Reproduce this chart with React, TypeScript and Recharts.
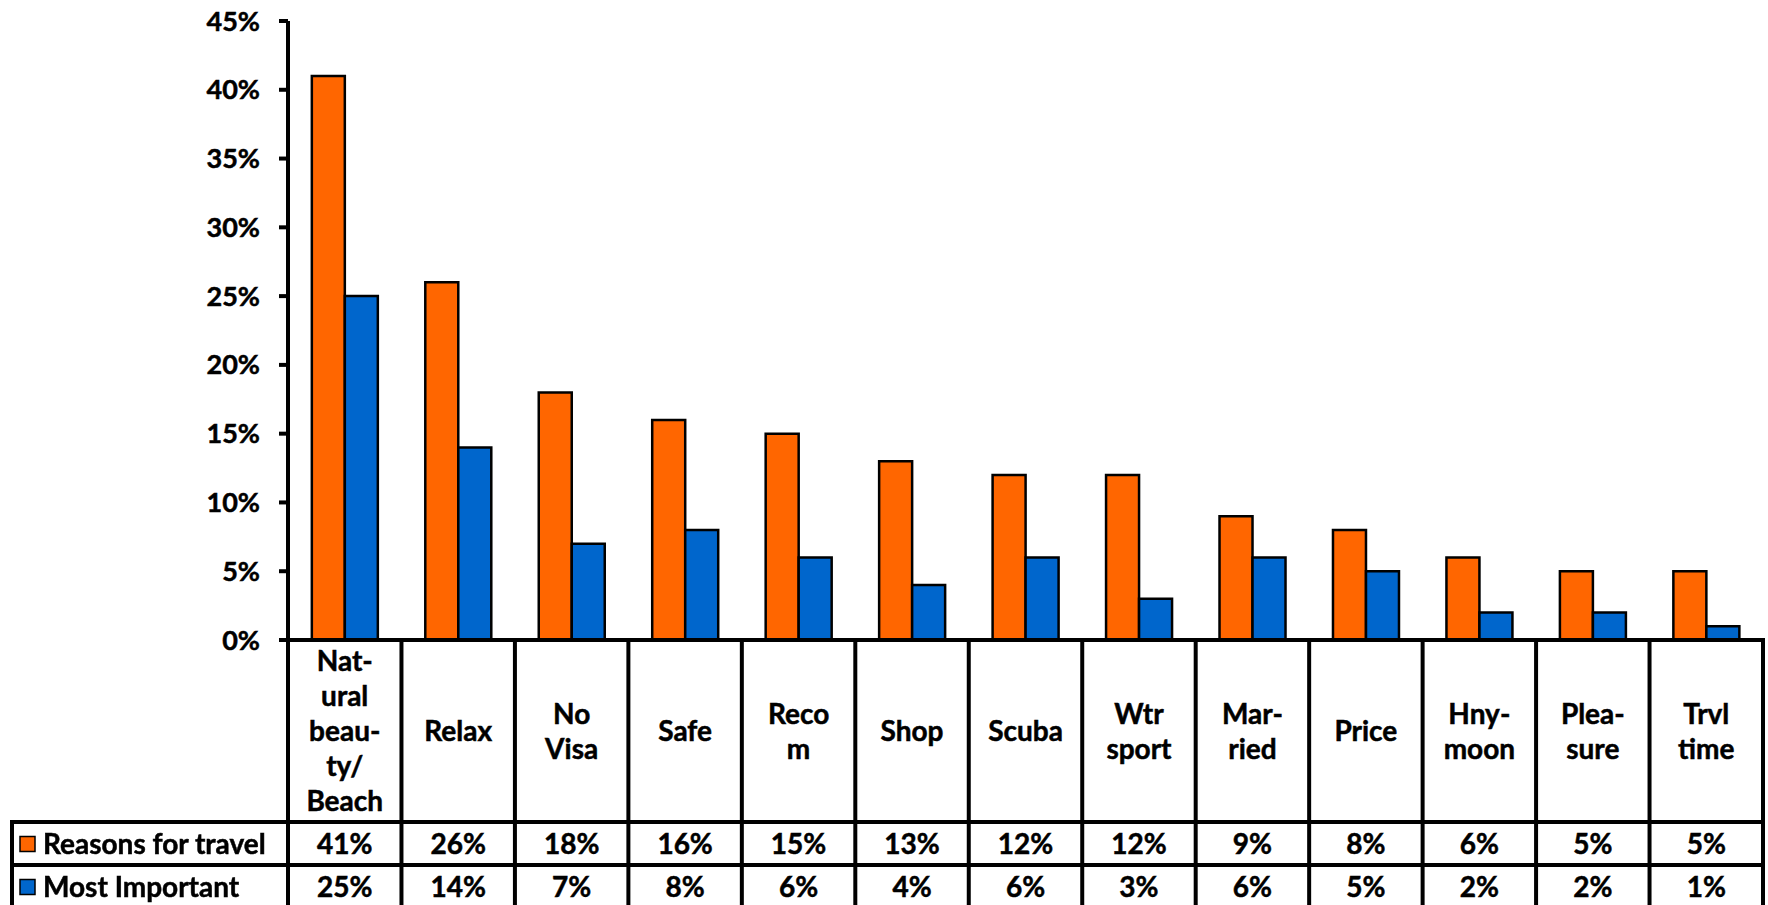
import React from 'react';
import { BarChart, Bar, XAxis, YAxis, Legend } from 'recharts';

// Survey: why visitors travel here, and which reason mattered most
const categories = [
  'Nat-\nural\nbeau-\nty/\nBeach',
  'Relax',
  'No\nVisa',
  'Safe',
  'Reco\nm',
  'Shop',
  'Scuba',
  'Wtr\nsport',
  'Mar-\nried',
  'Price',
  'Hny-\nmoon',
  'Plea-\nsure',
  'Trvl\ntime',
];
const reasonsForTravel = [41, 26, 18, 16, 15, 13, 12, 12, 9, 8, 6, 5, 5];
const mostImportant = [25, 14, 7, 8, 6, 4, 6, 3, 6, 5, 2, 2, 1];
const yTicks = [0, 5, 10, 15, 20, 25, 30, 35, 40, 45];
const seriesOrder = ['reasons', 'important'];

const data = categories.map((name, i) => ({
  name,
  reasons: reasonsForTravel[i],
  important: mostImportant[i],
}));

const W = 1768;
const H = 905;
const AXIS_W = 288;
const RIGHT = 5;
const PLOT_W = W - AXIS_W - RIGHT;
const COL_W = PLOT_W / categories.length;
const HEADER_H = 182;
const ROW_H = 43;
const LINE = 4;
const FONT = 'Lato, "DejaVu Sans", sans-serif';
const ORANGE = '#FF6600';
const BLUE = '#0066CC';

const pct = (v: number) => `${v}%`;

const textProps = {
  fontFamily: FONT,
  fontWeight: 700,
  fontSize: 28,
  fill: '#000',
  stroke: '#000',
  strokeWidth: 0.5,
};

// Each x tick draws its own column of the data table under the plot
const TableTick = (props: any) => {
  const { x, y, payload, index } = props;
  const row = data[index];
  const lines = String(payload.value).split('\n');
  const left = x - COL_W / 2;
  const right = x + COL_W / 2;
  const headerMid = y + HEADER_H / 2;
  const lh = 35;
  const firstY = headerMid - ((lines.length - 1) * lh) / 2;
  const row1 = y + HEADER_H;
  const row2 = row1 + ROW_H;
  return (
    <g>
      {index === 0 && <line x1={left} x2={left} y1={y - 2} y2={H} stroke="#000" strokeWidth={LINE} />}
      <line x1={right} x2={right} y1={y - 2} y2={H} stroke="#000" strokeWidth={LINE} />
      <line x1={left} x2={right + 2} y1={row1} y2={row1} stroke="#000" strokeWidth={LINE} />
      <line x1={left} x2={right + 2} y1={row2} y2={row2} stroke="#000" strokeWidth={LINE} />
      {lines.map((t, i) => (
        <text key={i} x={x} y={firstY + i * lh + 10} textAnchor="middle" {...textProps}>
          {t}
        </text>
      ))}
      <text x={x} y={row1 + ROW_H / 2 + 10} textAnchor="middle" {...textProps}>
        {pct(row.reasons)}
      </text>
      <text x={x} y={row2 + ROW_H / 2 + 10} textAnchor="middle" {...textProps}>
        {pct(row.important)}
      </text>
    </g>
  );
};

// Series keys sit in the left column of the table
const LegendTable = (props: any) => {
  const items = [...(props.payload || [])].sort(
    (a: any, b: any) => seriesOrder.indexOf(a.dataKey) - seriesOrder.indexOf(b.dataKey)
  );
  const w = AXIS_W + 2;
  return (
    <svg width={w} height={ROW_H * 2 + 4} style={{ display: 'block' }}>
      <line x1={12} x2={12} y1={0} y2={ROW_H * 2 + 4} stroke="#000" strokeWidth={LINE} />
      {items.map((entry: any, i: number) => {
        const top = 2 + i * ROW_H;
        const mid = top + ROW_H / 2;
        return (
          <g key={entry.value}>
            <line x1={10} x2={w} y1={top} y2={top} stroke="#000" strokeWidth={LINE} />
            <rect x={20} y={mid - 7} width={15} height={15} fill={entry.color} stroke="#000" strokeWidth={1.5} />
            <text x={43} y={mid + 10} {...textProps}>
              {entry.value}
            </text>
          </g>
        );
      })}
    </svg>
  );
};

export default function App() {
  return (
    <div style={{ position: 'fixed', left: 0, top: 0, width: W, height: H, background: '#fff' }}>
      <BarChart
        width={W}
        height={H}
        data={data}
        margin={{ top: 21, right: RIGHT, left: 0, bottom: 0 }}
        barCategoryGap="21%"
        barGap={0}
      >
        <YAxis
          width={AXIS_W}
          domain={[0, 45]}
          ticks={yTicks}
          interval={0}
          tickFormatter={pct}
          axisLine={{ stroke: '#000', strokeWidth: LINE }}
          tickLine={{ stroke: '#000', strokeWidth: LINE }}
          tickSize={9}
          tickMargin={19}
          tick={{ fill: '#000', stroke: '#000', strokeWidth: 0.5, fontSize: 27, fontWeight: 700, fontFamily: FONT }}
        />
        <XAxis
          dataKey="name"
          height={H - 640}
          interval={0}
          tickSize={0}
          tickMargin={0}
          tickLine={false}
          axisLine={{ stroke: '#000', strokeWidth: LINE }}
          tick={<TableTick />}
        />
        <Legend
          layout="horizontal"
          verticalAlign="middle"
          align="center"
          content={<LegendTable />}
          wrapperStyle={{ position: 'absolute', left: 0, top: 820, width: AXIS_W + 2, height: ROW_H * 2 + 4 }}
        />
        <Bar dataKey="reasons" name="Reasons for travel" fill={ORANGE} stroke="#000" strokeWidth={2.5} isAnimationActive={false} />
        <Bar dataKey="important" name="Most Important" fill={BLUE} stroke="#000" strokeWidth={2.5} isAnimationActive={false} />
      </BarChart>
    </div>
  );
}
